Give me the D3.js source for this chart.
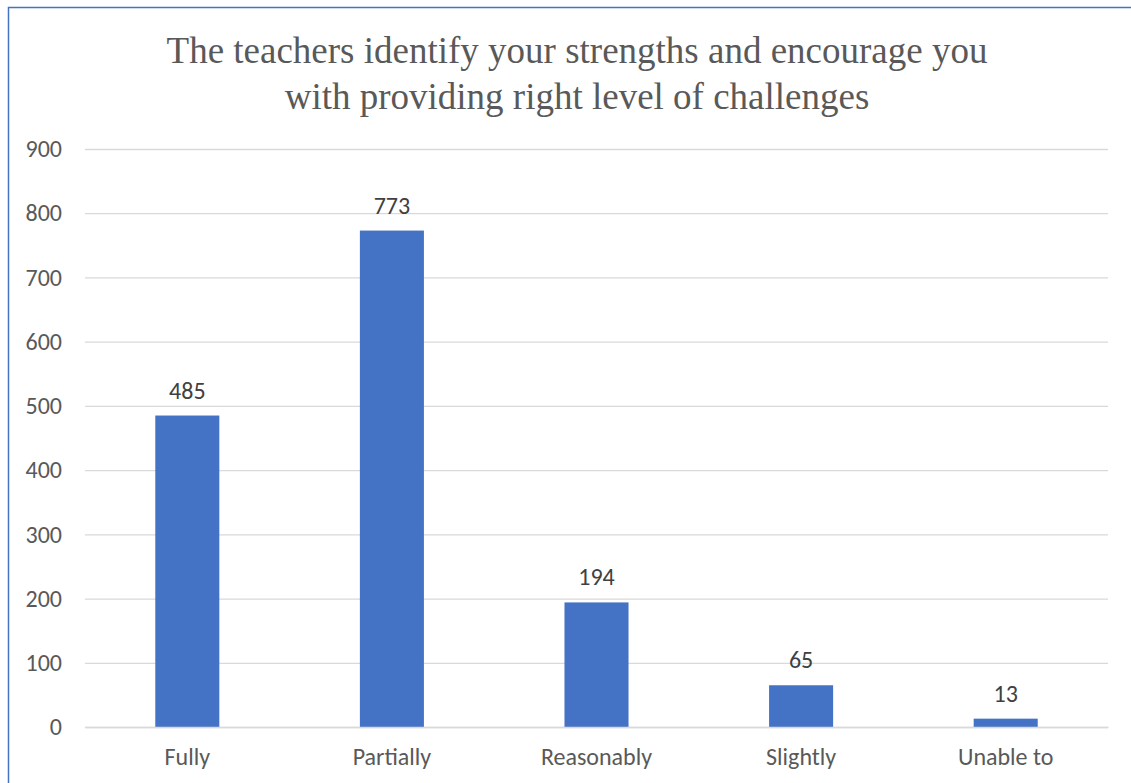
<!DOCTYPE html>
<html>
<head>
<meta charset="utf-8">
<script src="https://cdn.jsdelivr.net/npm/d3@7"></script>
<style>
  body { margin: 0; background: #fff; }
  svg { display: block; }
</style>
</head>
<body>
<svg id="chart" width="1131" height="783"></svg>
<script>
// datos del grafico
const categorias = ['Fully', 'Partially', 'Reasonably', 'Slightly', 'Unable to']
const valores = [485, 773, 194, 65, 13]
const ticksY = [0, 100, 200, 300, 400, 500, 600, 700, 800, 900]
const titulo = ['The teachers identify your strengths and encourage you',
                'with providing right level of challenges']

const svg = d3.select('#chart')
const margen = { left: 85, right: 1108, top: 149, bottom: 727 }
const fuente = 'Carlito, "Open Sans", sans-serif'

/* Borde del cuadro */
svg.append('path')
    .attr('d', 'M8.5,800 L8.5,7.5 L1140,7.5')
    .attr('fill', 'none')
    .attr('stroke', '#4472C4')
    .attr('stroke-width', 1.5)

/* Escalas */
const x = d3.scaleBand()
    .domain(categorias)
    .range([margen.left, margen.right])
    .paddingInner(0.687)
    .paddingOuter(0.3435)

const y = d3.scaleLinear()
    .domain([0, 900])
    .range([margen.bottom, margen.top])

/* Titulo */
svg.append('text')
    .attr('x', 577)
    .attr('y', 63)
    .attr('text-anchor', 'middle')
    .attr('font-family', '"Liberation Serif", "Times New Roman", serif')
    .attr('font-size', 37)
    .attr('fill', '#595959')
    .selectAll('tspan')
    .data(titulo)
    .enter().append('tspan')
    .attr('x', 577)
    .attr('dy', (d, i) => i === 0 ? 0 : 46)
    .text(d => d)

/* Lineas de la rejilla */
const ejeY = d3.axisLeft(y).tickValues(ticksY).tickSize(-(margen.right - margen.left)).tickPadding(23)
const gY = svg.append('g')
    .attr('transform', `translate(${margen.left},0)`)
    .call(ejeY)
gY.select('.domain').remove()
gY.selectAll('.tick line').attr('stroke', '#d9d9d9').attr('stroke-width', 1.3)
gY.selectAll('.tick text')
    .attr('font-family', fuente)
    .attr('font-size', 24)
    .attr('fill', '#595959')

/* Barras */
svg.selectAll('rect.barra')
    .data(valores)
    .enter().append('rect')
    .attr('class', 'barra')
    .attr('x', (d, i) => x(categorias[i]))
    .attr('y', d => y(d))
    .attr('width', x.bandwidth())
    .attr('height', d => y(0) - y(d))
    .attr('fill', '#4472C4')

/* Etiquetas de datos */
svg.selectAll('text.etiqueta')
    .data(valores)
    .enter().append('text')
    .attr('class', 'etiqueta')
    .attr('x', (d, i) => x(categorias[i]) + x.bandwidth() / 2)
    .attr('y', d => y(d) - 17)
    .attr('text-anchor', 'middle')
    .attr('font-family', fuente)
    .attr('font-size', 24)
    .attr('fill', '#404040')
    .text(d => d)

/* Eje X */
const ejeX = d3.axisBottom(x).tickSize(0).tickPadding(21)
const gX = svg.append('g')
    .attr('transform', `translate(0,${margen.bottom})`)
    .call(ejeX)
gX.select('.domain').attr('stroke', '#d9d9d9').attr('stroke-width', 1.3)
gX.selectAll('.tick text')
    .attr('font-family', fuente)
    .attr('font-size', 24)
    .attr('fill', '#595959')
</script>
</body>
</html>
